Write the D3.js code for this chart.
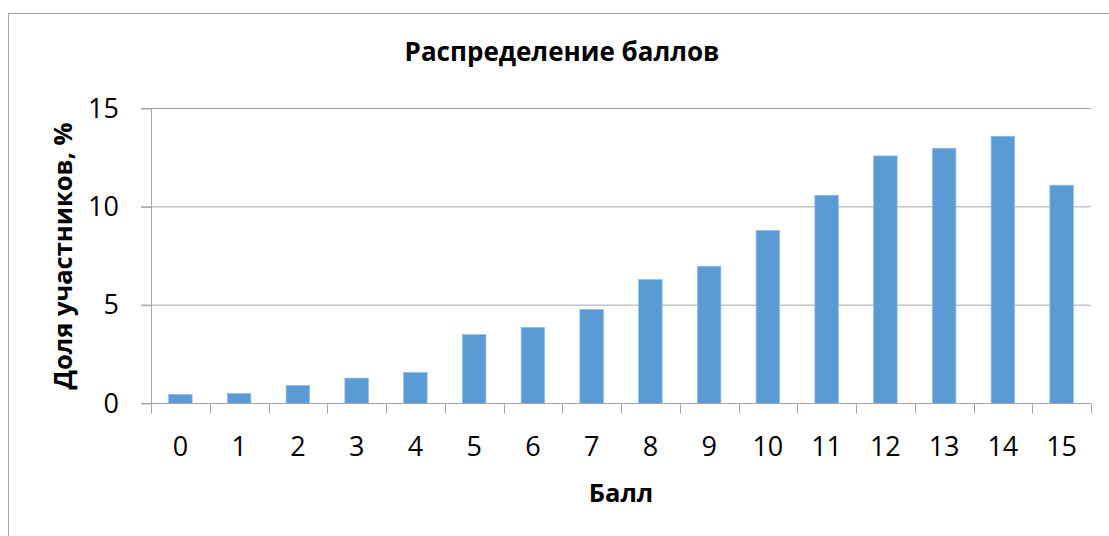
<!DOCTYPE html>
<html>
<head>
<meta charset="utf-8">
<script src="https://cdn.jsdelivr.net/npm/d3@7"></script>
<style>
  body { margin: 0; background: #fff; }
  svg { display: block; font-family: "Open Sans", sans-serif; }
</style>
</head>
<body>
<div id="chart"></div>
<script>
const scores = ['0', '1', '2', '3', '4', '5', '6', '7', '8', '9', '10', '11', '12', '13', '14', '15']
const shares = [0.46, 0.51, 0.92, 1.29, 1.58, 3.5, 3.87, 4.78, 6.3, 6.98, 8.8, 10.59, 12.59, 12.98, 13.59, 11.1]
const yTicks = [0, 5, 10, 15]

const title = 'Распределение баллов'
const xLabel = 'Балл'
const yLabel = 'Доля участников, %'

const W = 1109, H = 536
const margin = { top: 108.5, right: 18, bottom: 132.5, left: 151 }
const width = W - margin.left - margin.right
const height = H - margin.top - margin.bottom

const svg = d3.select('#chart').append('svg')
  .attr('width', W)
  .attr('height', H)

// chart border
svg.append('rect')
  .attr('x', 8.5).attr('y', 13.5)
  .attr('width', 1120).attr('height', 600)
  .attr('fill', 'none')
  .attr('stroke', '#a6a6a6')

const g = svg.append('g')
  .attr('transform', `translate(${margin.left}, ${margin.top})`)

const x = d3.scaleBand()
  .domain(scores)
  .range([0, width])
  .paddingInner(0.6)
  .paddingOuter(0.3)

const y = d3.scaleLinear()
  .domain([0, 15])
  .range([height, 0])

// gridlines
g.append('g')
  .selectAll('line')
  .data(yTicks)
  .enter()
  .append('line')
  .attr('x1', -10).attr('x2', width)
  .attr('y1', d => y(d)).attr('y2', d => y(d))
  .attr('stroke', '#a6a6a6')

// y axis
const yAxis = d3.axisLeft(y)
  .tickValues(yTicks)
  .tickSize(10)
  .tickPadding(22)

g.append('g')
  .call(yAxis)
  .call(s => s.select('.domain').attr('stroke', '#a6a6a6').attr('d', `M0.5,0V${height}`))
  .call(s => s.selectAll('line').attr('stroke', '#a6a6a6'))
  .call(s => s.selectAll('text')
    .style('font-size', '27px')
    .style('font-family', '"Open Sans", sans-serif')
    .attr('fill', '#000'))

// bars
g.selectAll('rect.bar')
  .data(shares)
  .enter()
  .append('rect')
  .attr('class', 'bar')
  .attr('x', (d, i) => x(scores[i]))
  .attr('y', d => y(d))
  .attr('width', x.bandwidth())
  .attr('height', d => height - y(d))
  .attr('fill', '#5b9bd5')
  .attr('stroke', '#8fbbe6')
  .attr('stroke-width', 0.7)

// x axis
const step = x.step()
const xAxisG = g.append('g')
  .attr('transform', `translate(0, ${height})`)

xAxisG.append('line')
  .attr('x1', 0).attr('x2', width)
  .attr('stroke', '#a6a6a6')

xAxisG.selectAll('line.tick')
  .data(d3.range(scores.length + 1))
  .enter()
  .append('line')
  .attr('class', 'tick')
  .attr('x1', i => Math.round(i * step) + 0.5)
  .attr('x2', i => Math.round(i * step) + 0.5)
  .attr('y1', 0).attr('y2', 10)
  .attr('stroke', '#a6a6a6')

xAxisG.selectAll('text')
  .data(scores)
  .enter()
  .append('text')
  .attr('x', d => x(d) + x.bandwidth() / 2)
  .attr('y', 52)
  .style('text-anchor', 'middle')
  .style('font-size', '27px')
  .attr('fill', '#000')
  .text(d => d)

// title
svg.append('text')
  .attr('x', 562)
  .attr('y', 61)
  .style('text-anchor', 'middle')
  .style('font-size', '26px')
  .style('font-weight', 'bold')
  .text(title)

// x label
svg.append('text')
  .attr('x', margin.left + width / 2)
  .attr('y', 502)
  .style('text-anchor', 'middle')
  .style('font-size', '25.5px')
  .style('font-weight', 'bold')
  .text(xLabel)

// y label
svg.append('text')
  .attr('transform', `translate(72, ${margin.top + height / 2}) rotate(-90)`)
  .style('text-anchor', 'middle')
  .style('font-size', '25.5px')
  .style('font-weight', 'bold')
  .text(yLabel)
</script>
</body>
</html>
